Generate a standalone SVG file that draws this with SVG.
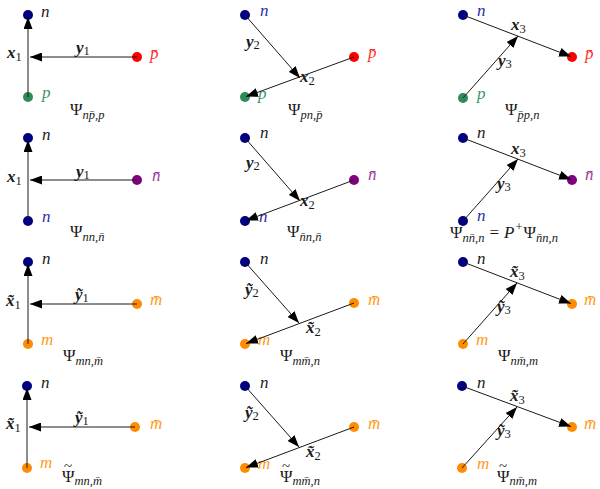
<svg xmlns="http://www.w3.org/2000/svg" width="600" height="489" viewBox="0 0 600 489">
  <style>
    text { font-family: "Liberation Serif", "DejaVu Serif", serif; font-size: 17px; fill: #1a1a1a; }
    .it { font-style: italic; }
    .bv { font-style: italic; font-weight: bold; }
    .sb { font-size: 12.5px; }
    .sbi { font-size: 12.5px; font-style: italic; }
    .tl { font-size: 15px; }
    .blue { fill: #2a2aa8; }
    .red { fill: #ff3030; }
    .green { fill: #3a9468; }
    .purple { fill: #a03ca0; }
    .orange { fill: #ff9a1a; }
    .d-navy { fill: #000080; }
    .d-red { fill: #ff0000; }
    .d-green { fill: #2e8b57; }
    .d-purple { fill: #800080; }
    .d-orange { fill: #ff8c00; }
    .edge { stroke: #1a1a1a; stroke-width: 1; fill: none; marker-end: url(#ah); }
  </style>
  <defs>
    <marker id="ah" markerWidth="12" markerHeight="9" refX="12" refY="4.5" orient="auto" markerUnits="userSpaceOnUse">
      <path d="M0,0 L12,4.5 L0,9 z" fill="#000"/>
    </marker>
  </defs>

  <!-- ===== particles (dots + names) ===== -->
  <!-- row 1 -->
  <g id="r1c1-n"><circle cx="28" cy="15" r="5" class="d-navy"/><text x="41" y="17" class="it">n</text></g>
  <g id="r1c1-p"><circle cx="28" cy="97" r="5" class="d-green"/><text x="42" y="98" class="it green">p</text></g>
  <g id="r1c1-pbar"><circle cx="137" cy="57" r="5" class="d-red"/><text x="150" y="59" class="it red">p&#x304;</text></g>

  <g id="r1c2-n"><circle cx="245" cy="15" r="5" class="d-navy"/><text x="260" y="16" class="it blue">n</text></g>
  <g id="r1c2-p"><circle cx="245" cy="97" r="5" class="d-green"/><text x="258" y="99" class="it green">p</text></g>
  <g id="r1c2-pbar"><circle cx="354" cy="57" r="5" class="d-red"/><text x="368" y="58" class="it red">p&#x304;</text></g>

  <g id="r1c3-n"><circle cx="463" cy="15" r="5" class="d-navy"/><text x="477" y="16" class="it blue">n</text></g>
  <g id="r1c3-p"><circle cx="463" cy="98" r="5" class="d-green"/><text x="477" y="99" class="it green">p</text></g>
  <g id="r1c3-pbar"><circle cx="572" cy="57" r="5" class="d-red"/><text x="585" y="59" class="it red">p&#x304;</text></g>

  <!-- row 2 -->
  <g id="r2c1-n"><circle cx="28" cy="138" r="5" class="d-navy"/><text x="42" y="140" class="it">n</text></g>
  <g id="r2c1-n2"><circle cx="28" cy="221" r="5" class="d-navy"/><text x="42" y="222" class="it blue">n</text></g>
  <g id="r2c1-nbar"><circle cx="137" cy="180" r="5" class="d-purple"/><text x="152" y="181" class="it purple">n&#x304;</text></g>

  <g id="r2c2-n"><circle cx="245" cy="138" r="5" class="d-navy"/><text x="260" y="138" class="it">n</text></g>
  <g id="r2c2-n2"><circle cx="245" cy="221" r="5" class="d-navy"/><text x="259" y="222" class="it blue">n</text></g>
  <g id="r2c2-nbar"><circle cx="354" cy="180" r="5" class="d-purple"/><text x="368" y="180" class="it purple">n&#x304;</text></g>

  <g id="r2c3-n"><circle cx="463" cy="138" r="5" class="d-navy"/><text x="477" y="138" class="it">n</text></g>
  <g id="r2c3-n2"><circle cx="463" cy="221" r="5" class="d-navy"/><text x="477" y="221" class="it blue">n</text></g>
  <g id="r2c3-nbar"><circle cx="572" cy="180" r="5" class="d-purple"/><text x="585" y="180" class="it purple">n&#x304;</text></g>

  <!-- row 3 -->
  <g id="r3c1-n"><circle cx="28" cy="262" r="5" class="d-navy"/><text x="42" y="264" class="it">n</text></g>
  <g id="r3c1-m"><circle cx="28" cy="344" r="5" class="d-orange"/><text x="41" y="345" class="it orange">m</text></g>
  <g id="r3c1-mbar"><circle cx="137" cy="304" r="5" class="d-orange"/><text x="150" y="305" class="it orange">m&#x304;</text></g>

  <g id="r3c2-n"><circle cx="245" cy="262" r="5" class="d-navy"/><text x="260" y="264" class="it">n</text></g>
  <g id="r3c2-m"><circle cx="245" cy="344" r="5" class="d-orange"/><text x="258" y="345" class="it orange">m</text></g>
  <g id="r3c2-mbar"><circle cx="354" cy="303" r="5" class="d-orange"/><text x="368" y="305" class="it orange">m&#x304;</text></g>

  <g id="r3c3-n"><circle cx="463" cy="262" r="5" class="d-navy"/><text x="477" y="264" class="it">n</text></g>
  <g id="r3c3-m"><circle cx="463" cy="344" r="5" class="d-orange"/><text x="476" y="345" class="it orange">m</text></g>
  <g id="r3c3-mbar"><circle cx="572" cy="304" r="5" class="d-orange"/><text x="584" y="305" class="it orange">m&#x304;</text></g>

  <!-- row 4 -->
  <g id="r4c1-n"><circle cx="27" cy="386" r="5" class="d-navy"/><text x="41" y="388" class="it">n</text></g>
  <g id="r4c1-m"><circle cx="27" cy="468" r="5" class="d-orange"/><text x="40" y="468" class="it orange">m</text></g>
  <g id="r4c1-mbar"><circle cx="135" cy="427" r="5" class="d-orange"/><text x="150" y="429" class="it orange">m&#x304;</text></g>

  <g id="r4c2-n"><circle cx="245" cy="386" r="5" class="d-navy"/><text x="260" y="388" class="it">n</text></g>
  <g id="r4c2-m"><circle cx="245" cy="468" r="5" class="d-orange"/><text x="258" y="469" class="it orange">m</text></g>
  <g id="r4c2-mbar"><circle cx="354" cy="427" r="5" class="d-orange"/><text x="368" y="429" class="it orange">m&#x304;</text></g>

  <g id="r4c3-n"><circle cx="462" cy="386" r="5" class="d-navy"/><text x="477" y="388" class="it">n</text></g>
  <g id="r4c3-m"><circle cx="462" cy="468" r="5" class="d-orange"/><text x="477" y="469" class="it orange">m</text></g>
  <g id="r4c3-mbar"><circle cx="572" cy="427" r="5" class="d-orange"/><text x="584" y="429" class="it orange">m&#x304;</text></g>

  <!-- ===== Jacobi coordinates (arrows) ===== -->
  <g id="connectors">
    <!-- row 1 -->
    <line class="edge" x1="28" y1="97" x2="28" y2="17"/>
    <line class="edge" x1="137" y1="57" x2="30" y2="57"/>
    <line class="edge" x1="245" y1="15" x2="300" y2="78"/>
    <line class="edge" x1="354" y1="57" x2="246" y2="96.6"/>
    <line class="edge" x1="463" y1="15" x2="571" y2="56.6"/>
    <line class="edge" x1="463" y1="98" x2="518" y2="36"/>
    <!-- row 2 -->
    <line class="edge" x1="28" y1="221" x2="28" y2="140"/>
    <line class="edge" x1="137" y1="180" x2="30" y2="180"/>
    <line class="edge" x1="245" y1="138" x2="300" y2="201"/>
    <line class="edge" x1="354" y1="180" x2="246" y2="220.6"/>
    <line class="edge" x1="463" y1="138" x2="571" y2="179.6"/>
    <line class="edge" x1="463" y1="221" x2="518" y2="159"/>
    <!-- row 3 -->
    <line class="edge" x1="28" y1="344" x2="28" y2="264"/>
    <line class="edge" x1="137" y1="304" x2="30" y2="304"/>
    <line class="edge" x1="245" y1="262" x2="299" y2="323"/>
    <line class="edge" x1="354" y1="303" x2="246" y2="343.6"/>
    <line class="edge" x1="463" y1="262" x2="571" y2="303.6"/>
    <line class="edge" x1="463" y1="344" x2="517" y2="283"/>
    <!-- row 4 -->
    <line class="edge" x1="27" y1="468" x2="27" y2="388"/>
    <line class="edge" x1="135" y1="427" x2="29" y2="427"/>
    <line class="edge" x1="245" y1="386" x2="299" y2="447"/>
    <line class="edge" x1="354" y1="427" x2="246" y2="467.6"/>
    <line class="edge" x1="462" y1="386" x2="571" y2="426.6"/>
    <line class="edge" x1="462" y1="468" x2="517" y2="407"/>
  </g>

  <!-- ===== coordinate labels ===== -->
  <g id="coord-labels">
    <!-- row 1 -->
    <text x="7" y="58"><tspan class="bv">x</tspan><tspan class="sb" dy="3">1</tspan></text>
    <text x="76" y="53"><tspan class="bv">y</tspan><tspan class="sb" dy="2">1</tspan></text>
    <text x="246" y="47"><tspan class="bv">y</tspan><tspan class="sb" dy="2">2</tspan></text>
    <text x="300" y="82"><tspan class="bv">x</tspan><tspan class="sb" dy="3">2</tspan></text>
    <text x="511" y="30"><tspan class="bv">x</tspan><tspan class="sb" dy="3">3</tspan></text>
    <text x="498" y="66"><tspan class="bv">y</tspan><tspan class="sb" dy="2">3</tspan></text>
    <!-- row 2 -->
    <text x="7" y="182"><tspan class="bv">x</tspan><tspan class="sb" dy="3">1</tspan></text>
    <text x="76" y="177"><tspan class="bv">y</tspan><tspan class="sb" dy="2">1</tspan></text>
    <text x="246" y="168"><tspan class="bv">y</tspan><tspan class="sb" dy="2">2</tspan></text>
    <text x="300" y="206"><tspan class="bv">x</tspan><tspan class="sb" dy="3">2</tspan></text>
    <text x="511" y="154"><tspan class="bv">x</tspan><tspan class="sb" dy="3">3</tspan></text>
    <text x="497" y="189"><tspan class="bv">y</tspan><tspan class="sb" dy="2">3</tspan></text>
    <!-- row 3 -->
    <text x="6" y="306"><tspan class="bv">x&#x303;</tspan><tspan class="sb" dy="3">1</tspan></text>
    <text x="75" y="300"><tspan class="bv">y&#x303;</tspan><tspan class="sb" dy="2">1</tspan></text>
    <text x="245" y="295"><tspan class="bv">y&#x303;</tspan><tspan class="sb" dy="2">2</tspan></text>
    <text x="306" y="333"><tspan class="bv">x&#x303;</tspan><tspan class="sb" dy="3">2</tspan></text>
    <text x="510" y="277"><tspan class="bv">x&#x303;</tspan><tspan class="sb" dy="3">3</tspan></text>
    <text x="497" y="312"><tspan class="bv">y&#x303;</tspan><tspan class="sb" dy="2">3</tspan></text>
    <!-- row 4 -->
    <text x="6" y="429"><tspan class="bv">x&#x303;</tspan><tspan class="sb" dy="3">1</tspan></text>
    <text x="75" y="423"><tspan class="bv">y&#x303;</tspan><tspan class="sb" dy="2">1</tspan></text>
    <text x="245" y="418"><tspan class="bv">y&#x303;</tspan><tspan class="sb" dy="2">2</tspan></text>
    <text x="306" y="457"><tspan class="bv">x&#x303;</tspan><tspan class="sb" dy="3">2</tspan></text>
    <text x="510" y="401"><tspan class="bv">x&#x303;</tspan><tspan class="sb" dy="3">3</tspan></text>
    <text x="497" y="436"><tspan class="bv">y&#x303;</tspan><tspan class="sb" dy="2">3</tspan></text>
  </g>

  <!-- ===== channel captions ===== -->
  <g id="captions">
    <text x="70" y="115">Ψ<tspan class="sbi" dy="4">np&#x304;,p</tspan></text>
    <text x="288" y="115">Ψ<tspan class="sbi" dy="4">pn,p&#x304;</tspan></text>
    <text x="505" y="115">Ψ<tspan class="sbi" dy="4">p&#x304;p,n</tspan></text>

    <text x="70" y="237">Ψ<tspan class="sbi" dy="4">nn,n&#x304;</tspan></text>
    <text x="287" y="237">Ψ<tspan class="sbi" dy="4">n&#x304;n,n&#x304;</tspan></text>
    <text x="450" y="238">Ψ<tspan class="sbi" dy="4">nn&#x304;,n</tspan><tspan dy="-4" dx="5">=</tspan><tspan class="it" dx="5">P</tspan><tspan class="sb" dy="-7" dx="1">+</tspan><tspan dy="7" dx="1">Ψ</tspan><tspan class="sbi" dy="4">n&#x304;n,n</tspan></text>

    <text x="63" y="361">Ψ<tspan class="sbi" dy="4">mn,m&#x304;</tspan></text>
    <text x="280" y="361">Ψ<tspan class="sbi" dy="4">mm&#x304;,n</tspan></text>
    <text x="498" y="361">Ψ<tspan class="sbi" dy="4">nm&#x304;,m</tspan></text>

    <!-- wide tilde over Psi -->
    <text x="62" y="482">Ψ<tspan class="sbi" dy="3">mn,m&#x304;</tspan></text>
    <text class="tl" x="64" y="471">~</text>
    <text x="280" y="482">Ψ<tspan class="sbi" dy="3">mm&#x304;,n</tspan></text>
    <text class="tl" x="282" y="471">~</text>
    <text x="497" y="482">Ψ<tspan class="sbi" dy="3">nm&#x304;,m</tspan></text>
    <text class="tl" x="499" y="471">~</text>
  </g>
</svg>
